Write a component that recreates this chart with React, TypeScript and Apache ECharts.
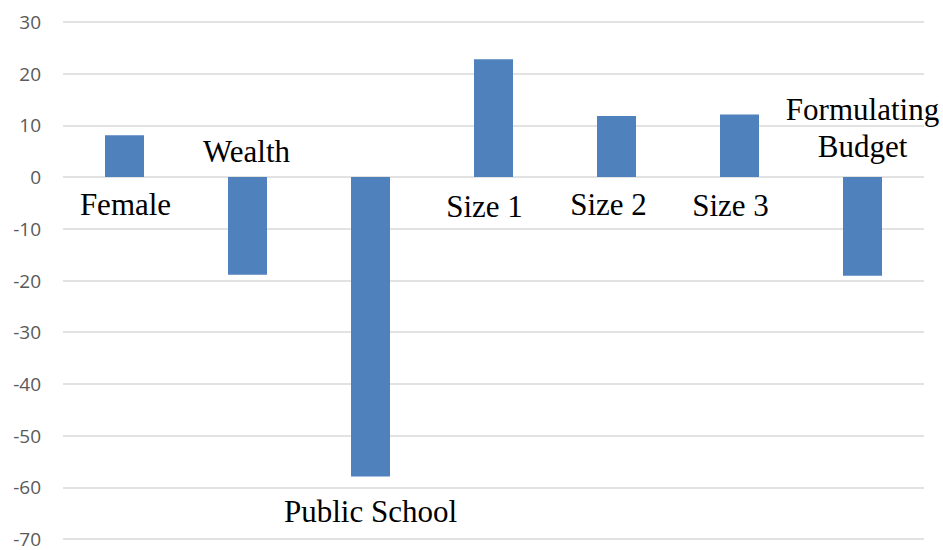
import React, { useEffect, useRef } from "react";
import * as echarts from "echarts";

const categories = ["Female", "Wealth", "Public School", "Size 1", "Size 2", "Size 3", "Formulating\nBudget"];
const values = [8.1, -18.9, -57.9, 22.8, 11.8, 12.1, -19.1];
const labelSide = ["bottom", "top", "bottom", "bottom", "bottom", "bottom", "top"];
const labelShiftX = [1, -1, 0, -9, -8, -9, 0];
const labelDist = [9, 7, 17, 11, 9, 10, 12];

export default function App() {
  const ref = useRef<HTMLDivElement>(null);
  useEffect(() => {
    const chart = echarts.init(ref.current!, null, { renderer: "svg" });
    chart.setOption({
      animation: false,
      grid: { left: 63, right: 19, top: 22, bottom: 11, containLabel: false },
      xAxis: {
        type: "category",
        data: categories,
        axisLine: { show: false },
        axisTick: { show: false },
        axisLabel: { show: false },
      },
      yAxis: {
        type: "value",
        min: -70,
        max: 30,
        interval: 10,
        axisLine: { show: false },
        axisTick: { show: false },
        axisLabel: { color: "#595959", fontSize: 19, lineHeight: 16, fontFamily: "Open Sans", margin: 22 },
        splitLine: { lineStyle: { color: "#d9d9d9", width: 1.5 } },
      },
      series: [
        {
          type: "bar",
          barWidth: 39,
          itemStyle: { color: "#4f81bd" },
          data: values.map((v, i) => ({
            value: v,
            label: {
              show: true,
              position: labelSide[i],
              distance: labelDist[i],
              offset: [labelShiftX[i], 0],
              formatter: () => categories[i],
              fontFamily: "Liberation Serif",
              fontSize: 31,
              lineHeight: 37,
              color: "#000",
            },
          })),
        },
      ],
    });
    return () => chart.dispose();
  }, []);
  return (
    <div
      ref={ref}
      style={{ position: "absolute", left: 0, top: 0, width: 943, height: 550 }}
    />
  );
}
